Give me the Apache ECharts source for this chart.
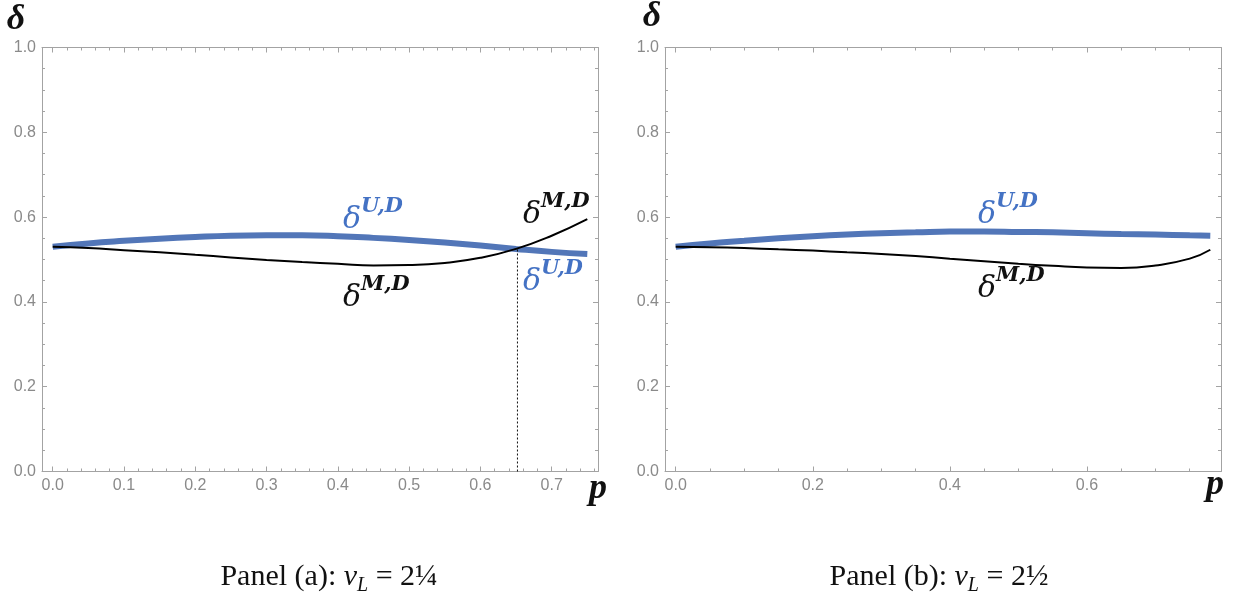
<!DOCTYPE html>
<html>
<head>
<meta charset="utf-8">
<script src="https://cdn.jsdelivr.net/npm/echarts@6/dist/echarts.min.js"></script>
<style>
  html, body { margin: 0; background: #fff; }
  #chart { width: 1238px; height: 592px; }
</style>
</head>
<body>
<div id="chart"></div>
<script>
// panel (a): v_L = 2 1/4
const pA = [0, 0.05, 0.1, 0.15, 0.2, 0.25, 0.3, 0.35, 0.4, 0.45, 0.5, 0.55, 0.6, 0.65, 0.7, 0.75];
const uA = [0.530, 0.538, 0.544, 0.549, 0.553, 0.556, 0.557, 0.557, 0.555, 0.551, 0.546, 0.540, 0.533, 0.525, 0.518, 0.513];
const mA = [0.530, 0.527, 0.522, 0.517, 0.511, 0.505, 0.499, 0.494, 0.490, 0.486, 0.487, 0.492, 0.504, 0.525, 0.556, 0.595];
// where the two curves cross (dotted marker)
const crossA = [0.652, 0.525];

// panel (b): v_L = 2 1/2
const pB = [0, 0.05, 0.1, 0.15, 0.2, 0.25, 0.3, 0.35, 0.4, 0.45, 0.5, 0.55, 0.6, 0.65, 0.7, 0.75, 0.78];
const uB = [0.530, 0.538, 0.544, 0.550, 0.555, 0.559, 0.562, 0.564, 0.566, 0.566, 0.565, 0.564, 0.562, 0.560, 0.559, 0.557, 0.556];
const mB = [0.530, 0.529, 0.527, 0.524, 0.521, 0.517, 0.513, 0.508, 0.502, 0.496, 0.490, 0.485, 0.481, 0.480, 0.486, 0.502, 0.523];

// tick labels
const xTicksA = [0, 0.1, 0.2, 0.3, 0.4, 0.5, 0.6, 0.7];
const xTicksB = [0, 0.2, 0.4, 0.6];
const yTicks = [0, 0.2, 0.4, 0.6, 0.8, 1.0];

const captionA = '{n|Panel (a): }{i|v}{s|L}{n| = 2¼}';
const captionB = '{n|Panel (b): }{i|v}{s|L}{n| = 2½}';

const BLUE = '#5276b8';
const BLUE_TXT = '#4472c4';
const FRAME = '#a3a3a3';

// minor tick positions (not data, just frame ticks)
function steps(from, to, step) {
  const out = [];
  for (let v = from; v <= to + 1e-9; v += step) out.push(Math.round(v * 1000) / 1000);
  return out;
}

function pairs(xs, ys) {
  return xs.map((x, i) => [x, ys[i]]);
}

// Mathematica-like frame: major+minor ticks on all four sides, inward
function frameAxes(grid, min, max, majors, minors, horizontal) {
  const sides = horizontal ? ['bottom', 'top'] : ['left', 'right'];
  const list = [];
  sides.forEach((pos, s) => {
    [majors, minors].forEach((vals, k) => {
      list.push({
        type: 'value',
        gridIndex: grid,
        position: pos,
        min: min,
        max: max,
        axisLine: { show: k === 0, onZero: false, lineStyle: { color: FRAME, width: 1 } },
        axisTick: { show: true, inside: true, length: k === 0 ? 5 : 3, customValues: vals, lineStyle: { color: FRAME } },
        axisLabel: {
          show: s === 0 && k === 0,
          customValues: majors,
          formatter: v => v.toFixed(1),
          color: '#8a8a8a',
          fontSize: 16,
          fontFamily: 'Liberation Sans',
          margin: 6
        },
        splitLine: { show: false }
      });
    });
  });
  return list;
}

function deltaLabel(x, y, sup, color) {
  return {
    type: 'group', x: x, y: y, silent: true,
    children: [
      { type: 'text', x: 0, y: 0, style: { text: 'δ', fill: color, font: 'italic 30px "DejaVu Serif"', verticalAlign: 'middle', textVerticalAlign: 'middle' } },
      { type: 'text', x: 18, y: -13, style: { text: sup, fill: color, font: 'italic 600 21px "DejaVu Serif"', verticalAlign: 'middle', textVerticalAlign: 'middle' } }
    ]
  };
}

function axisTitle(x, y, txt) {
  return {
    type: 'text', x: x, y: y, silent: true,
    style: { text: txt, fill: '#111', font: 'italic 600 36px "Liberation Serif"', align: 'center', textAlign: 'center', verticalAlign: 'middle', textVerticalAlign: 'middle' }
  };
}

function caption(x, y, txt) {
  return {
    type: 'text', x: x, y: y, silent: true,
    style: {
      text: txt, fill: '#111', align: 'center', textAlign: 'center', verticalAlign: 'middle', textVerticalAlign: 'middle',
      rich: {
        n: { fontFamily: 'Liberation Serif', fontSize: 30, lineHeight: 40, color: '#111' },
        i: { fontFamily: 'Liberation Serif', fontStyle: 'italic', fontSize: 30, lineHeight: 40, color: '#111' },
        s: { fontFamily: 'Liberation Serif', fontStyle: 'italic', fontSize: 20, lineHeight: 20, verticalAlign: 'top', padding: [19, 0, 0, 0], color: '#111' }
      }
    }
  };
}

const xAxes = [].concat(
  frameAxes(0, -0.015, 0.765, xTicksA, steps(0, 0.76, 0.02), true),
  frameAxes(1, -0.0156, 0.7956, xTicksB, steps(0, 0.79, 0.05), true)
);
const yAxes = [].concat(
  frameAxes(0, 0, 1, yTicks, steps(0, 1, 0.05), false),
  frameAxes(1, 0, 1, yTicks, steps(0, 1, 0.05), false)
);

const option = {
  animation: false,
  backgroundColor: '#fff',
  grid: [
    { left: 42, top: 47.5, width: 556, height: 424 },
    { left: 665, top: 47.5, width: 556, height: 424 }
  ],
  xAxis: xAxes,
  yAxis: yAxes,
  series: [
    {
      type: 'line', xAxisIndex: 0, yAxisIndex: 0, data: pairs(pA, uA),
      smooth: true, showSymbol: false, lineStyle: { color: BLUE, width: 6 }
    },
    {
      type: 'line', xAxisIndex: 0, yAxisIndex: 0, data: [[crossA[0], 0], [crossA[0], crossA[1]]],
      showSymbol: false, lineStyle: { color: '#111', width: 1, type: [2, 2] }
    },
    {
      type: 'line', xAxisIndex: 0, yAxisIndex: 0, data: pairs(pA, mA),
      smooth: true, showSymbol: false, lineStyle: { color: '#000', width: 2 }
    },
    {
      type: 'line', xAxisIndex: 4, yAxisIndex: 4, data: pairs(pB, uB),
      smooth: true, showSymbol: false, lineStyle: { color: BLUE, width: 6 }
    },
    {
      type: 'line', xAxisIndex: 4, yAxisIndex: 4, data: pairs(pB, mB),
      smooth: true, showSymbol: false, lineStyle: { color: '#000', width: 2 }
    }
  ],
  graphic: [
    axisTitle(16, 20, 'δ'),
    axisTitle(652, 17, 'δ'),
    axisTitle(598, 489, 'p'),
    axisTitle(1215, 485, 'p'),
    deltaLabel(343, 220, 'U,D', BLUE_TXT),
    deltaLabel(523, 215, 'M,D', '#111'),
    deltaLabel(343, 298, 'M,D', '#111'),
    deltaLabel(523, 282, 'U,D', BLUE_TXT),
    deltaLabel(978, 215, 'U,D', BLUE_TXT),
    deltaLabel(978, 289, 'M,D', '#111'),
    caption(329, 577, captionA),
    caption(939, 577, captionB)
  ]
};

echarts.init(document.getElementById('chart')).setOption(option);
</script>
</body>
</html>
